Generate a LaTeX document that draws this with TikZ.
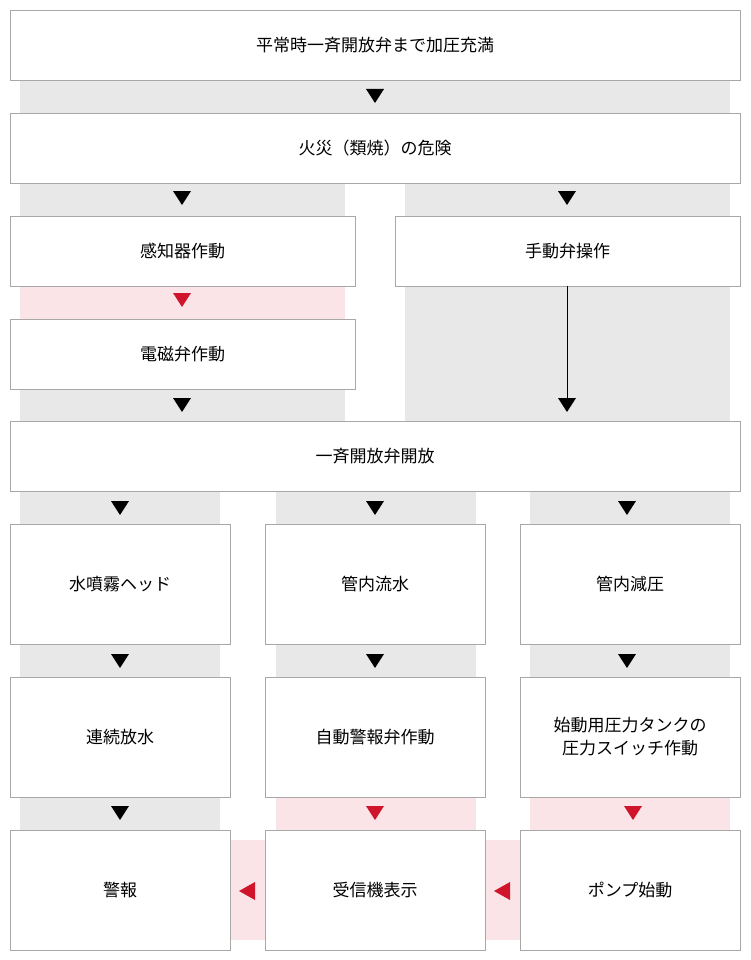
\documentclass[tikz,border=0pt]{standalone}
\usepackage{fontspec}
\setmainfont{Noto Sans CJK JP}
\usetikzlibrary{positioning}
\definecolor{bandgray}{HTML}{E8E8E8}
\definecolor{bandpink}{HTML}{FBE4E7}
\definecolor{tipred}{HTML}{D0142C}
\definecolor{boxline}{HTML}{A8A8A8}
\tikzset{
  stepbox/.style={draw=boxline, fill=white, line width=0.8pt},
  tridown/.style={fill=#1, draw=none},
  tridown/.default=black,
}
\newcommand{\downtri}[3][black]{% color, x, y
  \fill[#1] (#2-9,#3-7) -- (#2+9,#3-7) -- (#2,#3+7) -- cycle;}
\newcommand{\lefttri}[3][black]{%
  \fill[#1] (#2+8,#3-9) -- (#2+8,#3+9) -- (#2-8,#3) -- cycle;}
\begin{document}
\begin{tikzpicture}[x=1pt,y=-1pt,font=\fontsize{17}{23}\selectfont]
\useasboundingbox (0,0) rectangle (750,960);
% ------ bands ------
\fill[bandgray] (20,80) rectangle (730,113);
\fill[bandgray] (20,183) rectangle (345,216);
\fill[bandgray] (405,183) rectangle (730,421);
\fill[bandpink] (20,286) rectangle (345,319);
\fill[bandgray] (20,389) rectangle (345,421);
\foreach \x in {20,276,530} {
  \fill[bandgray] (\x,491) rectangle ++(200,33);
  \fill[bandgray] (\x,644) rectangle ++(200,33);
}
\fill[bandgray] (20,797) rectangle (220,830);
\fill[bandpink] (276,797) rectangle (476,830);
\fill[bandpink] (530,797) rectangle (730,830);
\fill[bandpink] (230,840) rectangle (265,940);
\fill[bandpink] (485,840) rectangle (520,940);
% ------ boxes ------
\draw[stepbox] (10,10) rectangle node (prs) {平常時一斉開放弁まで加圧充満} (740,80);
\draw[stepbox] (10,113) rectangle node (fire) {火災（類焼）の危険} (740,183);
\draw[stepbox] (10,216) rectangle node (det) {感知器作動} (355,286);
\draw[stepbox] (395,216) rectangle node (man) {手動弁操作} (740,286);
\draw[stepbox] (10,319) rectangle node (sol) {電磁弁作動} (355,389);
\draw[stepbox] (10,421) rectangle node (dlg) {一斉開放弁開放} (740,491);
\draw[stepbox] (10,524) rectangle node (head) {水噴霧ヘッド} (230,644);
\draw[stepbox] (265,524) rectangle node (flow) {管内流水} (485,644);
\draw[stepbox] (520,524) rectangle node (drop) {管内減圧} (740,644);
\draw[stepbox] (10,677) rectangle node (cont) {連続放水} (230,797);
\draw[stepbox] (265,677) rectangle node (alv) {自動警報弁作動} (485,797);
\draw[stepbox] (520,677) rectangle node[align=center] (psw) {始動用圧力タンクの\\圧力スイッチ作動} (740,797);
\draw[stepbox] (10,830) rectangle node (alarm) {警報} (230,950);
\draw[stepbox] (265,830) rectangle node (recv) {受信機表示} (485,950);
\draw[stepbox] (520,830) rectangle node (pump) {ポンプ始動} (740,950);
% ------ arrows ------
\downtri{375}{96}
\downtri{182}{198}
\downtri{567}{198}
\downtri[tipred]{182}{300}
\downtri{182}{405}
\coordinate (manend) at (567,398);
\draw[line width=1pt] (567,286) -- (manend);
\downtri{567}{405}
\foreach \x in {120,375,627} {
  \downtri{\x}{508}
  \downtri{\x}{661}
}
\downtri{120}{813}
\downtri[tipred]{375}{813}
\downtri[tipred]{633}{813}
\lefttri[tipred]{247}{891}
\lefttri[tipred]{502}{891}
\end{tikzpicture}
\end{document}
